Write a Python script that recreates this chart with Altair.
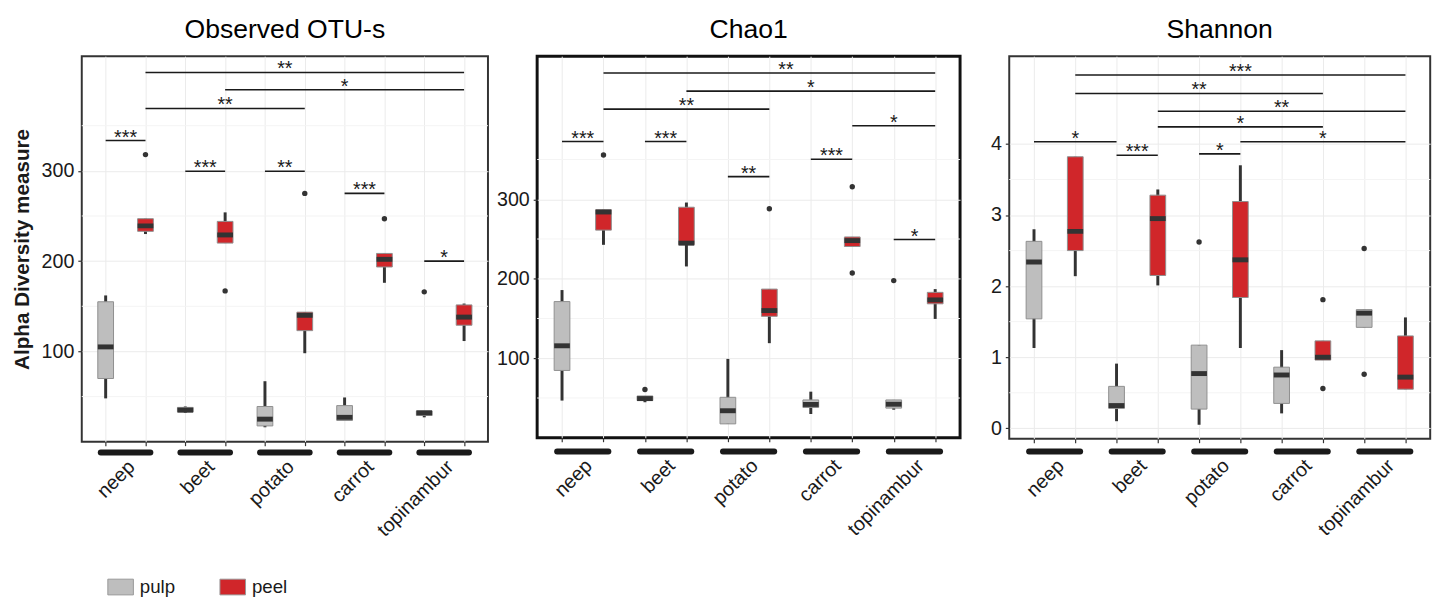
import altair as alt
import pandas as pd

FONT = "Liberation Sans"

vegetables = ["neep", "beet", "potato", "carrot", "topinambur"]
tissues = ["pulp", "peel"]
tissue_colors = ["#bebebe", "#d0262a"]

# group order: neep pulp, neep peel, beet pulp, beet peel, ... (positions 1..10)
# ---- Observed OTU-s
obs_lo = [48, 230, 32, 220, 16, 98, 23.5, 176, 27, 111.5]
obs_q1 = [70, 233, 33, 220, 17.5, 123, 23.5, 193.5, 29, 129]
obs_med = [105, 239, 35, 229, 25, 140, 27, 202, 32, 138]
obs_q3 = [155, 247, 38, 244, 39, 143.5, 40, 208.5, 34, 151.5]
obs_hi = [162, 247, 39, 254, 67, 143.5, 49, 208.5, 34, 153]
obs_out_grp = [2, 4, 6, 8, 9]
obs_out_val = [318, 167, 275, 247, 166]
obs_br_from = [1, 3, 5, 7, 9, 2, 4, 2]
obs_br_to = [2, 4, 6, 8, 10, 6, 10, 10]
obs_br_y = [333.5, 299.6, 299.6, 275, 200, 369, 389.8, 409]
obs_br_lab = ["***", "***", "**", "***", "*", "**", "*", "**"]
obs_br_lx = [1.5, 3.5, 5.5, 7.5, 9.5, 4, 7, 5.5]

# ---- Chao1
chao_lo = [46.8, 242.7, 44.7, 215.5, 17.5, 119, 29.9, 240.6, 35.3, 149.5]
chao_q1 = [84.7, 261.2, 46.8, 243, 17.5, 152.8, 38.1, 240.6, 37.3, 168.5]
chao_med = [115.7, 284, 49.3, 244.8, 34, 160, 41.9, 248, 42.2, 173.4]
chao_q3 = [171.3, 286.8, 52.6, 290, 50.9, 187, 47.6, 252.6, 47.6, 182.9]
chao_hi = [185.8, 286.8, 52.6, 295.9, 99.2, 187, 58, 252.6, 47.6, 187]
chao_out_grp = [2, 3, 6, 8, 8, 9]
chao_out_val = [355.7, 60.8, 288, 315.7, 207.2, 197.7]
chao_br_from = [1, 3, 5, 7, 9, 2, 4, 2, 8]
chao_br_to = [2, 4, 6, 8, 10, 6, 10, 10, 10]
chao_br_y = [372.6, 372.6, 328.5, 350.3, 249.3, 413.4, 436, 458.8, 392.4]
chao_br_lab = ["***", "***", "**", "***", "*", "**", "*", "**", "*"]
chao_br_lx = [1.5, 3.5, 5.5, 7.5, 9.5, 4, 7, 6.4, 9]

# ---- Shannon
sha_lo = [1.13, 2.14, 0.10, 2.01, 0.05, 1.13, 0.21, 0.96, 1.42, 0.55]
sha_q1 = [1.54, 2.50, 0.28, 2.15, 0.27, 1.84, 0.35, 0.96, 1.42, 0.55]
sha_med = [2.34, 2.77, 0.32, 2.95, 0.77, 2.37, 0.75, 1.00, 1.62, 0.72]
sha_q3 = [2.63, 3.82, 0.59, 3.28, 1.17, 3.19, 0.86, 1.23, 1.67, 1.30]
sha_hi = [2.80, 3.82, 0.91, 3.36, 1.17, 3.70, 1.10, 1.23, 1.67, 1.56]
sha_out_grp = [5, 8, 8, 9, 9]
sha_out_val = [2.62, 1.81, 0.56, 2.53, 0.76]
sha_br_from = [1, 3, 5, 6, 4, 4, 2, 2]
sha_br_to = [3, 4, 6, 10, 8, 10, 8, 10]
sha_br_y = [4.03, 3.84, 3.86, 4.03, 4.24, 4.46, 4.71, 4.97]
sha_br_lab = ["*", "***", "*", "*", "*", "**", "**", "***"]
sha_br_lx = [2, 3.5, 5.5, 8, 6, 7, 5, 6]

positions = list(range(1, 11))

label_expr = ("datum.value % 2 == 1 ? ["
              + ",".join("'" + v + "'" for v in vegetables)
              + "][(datum.value - 1) / 2] : ''")


def panel(title, W, H, dom, yticks, minor, lo, q1, med, q3, hi,
          out_g, out_v, br_from, br_to, br_y, br_lab, br_lx,
          frame_color, frame_w, label_off, label_pad, bar_dy, y_title=None):
    groups = pd.DataFrame({
        "pos": positions,
        "tissue": [tissues[i % 2] for i in range(10)],
        "veg": [vegetables[i // 2] for i in range(10)],
        "lo": lo, "q1": q1, "med": med, "q3": q3, "hi": hi,
    })
    outs = pd.DataFrame({"pos": out_g, "v": out_v})
    brs = pd.DataFrame({"a": br_from, "b": br_to, "y": br_y, "lab": br_lab, "lx": br_lx})
    pairs = pd.DataFrame({"a": positions[0::2], "b": positions[1::2], "veg": vegetables})
    mins = pd.DataFrame({"v": minor})

    xs = alt.Scale(domain=[0.4, 10.6], nice=False, zero=False, padding=0)
    xaxis = alt.Axis(values=positions, labelExpr=label_expr, labelAngle=-45,
                     labelAlign="right", labelBaseline="top", labelOffset=label_off,
                     labelPadding=label_pad, labelFontSize=20, labelFont=FONT,
                     labelColor="#1a1a1a", labelOverlap=False, labelFlush=False,
                     tickSize=4, tickColor="#333333", tickWidth=1.2, domain=False,
                     grid=True, gridColor="#ebebeb", gridWidth=1, title=None)
    ys = alt.Scale(domain=dom, nice=False, zero=False, padding=0)
    yargs = dict(values=yticks, format="d", grid=True, gridColor="#ebebeb", gridWidth=1,
                 domain=False, tickSize=4, tickColor="#333333", tickWidth=1.2,
                 labelFontSize=20, labelFont=FONT, labelColor="#1a1a1a", labelPadding=4)
    if y_title:
        yargs.update(title=y_title, titleFontSize=21, titleFont=FONT, titleFontWeight="bold",
                     titleColor="#1a1a1a", titlePadding=9)
    else:
        yargs.update(title=None)
    yaxis = alt.Axis(**yargs)

    def X(f):
        return alt.X(f + ":Q", scale=xs, axis=xaxis)

    def Y(f):
        return alt.Y(f + ":Q", scale=ys, axis=yaxis)

    minor_grid = alt.Chart(mins).mark_rule(color="#f4f4f4", strokeWidth=1).encode(y=Y("v"))
    whisk = alt.Chart(groups).mark_rule(color="#333333", strokeWidth=3).encode(
        x=X("pos"), y=Y("lo"), y2="hi")
    box = alt.Chart(groups).mark_bar(size=16, stroke="#8f8f8f", strokeWidth=1).encode(
        x=X("pos"), y=Y("q1"), y2="q3",
        fill=alt.Fill("tissue:N", scale=alt.Scale(domain=tissues, range=tissue_colors),
                      legend=alt.Legend(title=None, orient="none", legendX=29, legendY=529,
                                        direction="horizontal",
                                        symbolType="M-1.3,-0.8H1.3V0.8H-1.3Z",
                                        symbolSize=400, symbolStrokeColor="#999999",
                                        symbolStrokeWidth=1, symbolOpacity=1,
                                        labelFontSize=19, labelFont=FONT,
                                        labelColor="#1a1a1a", labelOffset=9,
                                        columnPadding=43, padding=0)))
    medians = alt.Chart(groups).mark_tick(orient="horizontal", size=16, thickness=5,
                                          color="#333333", opacity=1).encode(
        x=X("pos"), y=Y("med"))
    points = alt.Chart(outs).mark_circle(size=30, color="#333333", opacity=1).encode(
        x=X("pos"), y=Y("v"))
    brackets = alt.Chart(brs).mark_rule(color="#1a1a1a", strokeWidth=1.6).encode(
        x=X("a"), x2="b", y=Y("y"))
    stars = alt.Chart(brs).mark_text(fontSize=20, font=FONT, baseline="alphabetic",
                                     color="#1a1a1a", dy=3).encode(
        x=X("lx"), y=Y("y"), text="lab:N")
    under = alt.Chart(pairs).mark_rule(color="#1a1a1a", strokeWidth=6, strokeCap="round",
                                       xOffset=-5, x2Offset=5).encode(
        x=X("a"), x2="b", y=alt.value(H + bar_dy))

    return alt.layer(minor_grid, whisk, box, medians, points, brackets, stars, under).properties(
        width=W, height=H,
        title=alt.Title(title, fontSize=27, font=FONT, fontWeight="normal", color="black",
                        anchor="middle", offset=12),
        view=alt.ViewBackground(stroke=frame_color, strokeWidth=frame_w, fill="white"),
    )


p1 = panel("Observed OTU-s", 413, 392, [0, 427], [100, 200, 300], [50, 150, 250, 350],
           obs_lo, obs_q1, obs_med, obs_q3, obs_hi, obs_out_grp, obs_out_val,
           obs_br_from, obs_br_to, obs_br_y, obs_br_lab, obs_br_lx,
           "#333333", 2, 19, 11, 11, y_title="Alpha Diversity measure")
p2 = panel("Chao1", 430, 388, [0, 480], [100, 200, 300], [50, 150, 250, 350],
           chao_lo, chao_q1, chao_med, chao_q3, chao_hi, chao_out_grp, chao_out_val,
           chao_br_from, chao_br_to, chao_br_y, chao_br_lab, chao_br_lx,
           "#111111", 3, 20, 14, 14)
p3 = panel("Shannon", 428, 389, [-0.147, 5.235], [0, 1, 2, 3, 4], [0.5, 1.5, 2.5, 3.5],
           sha_lo, sha_q1, sha_med, sha_q3, sha_hi, sha_out_grp, sha_out_val,
           sha_br_from, sha_br_to, sha_br_y, sha_br_lab, sha_br_lx,
           "#333333", 2, 20, 13, 13)

chart = alt.hconcat(p1, p2, p3, spacing=50, bounds="flush").properties(
    padding={"left": 2, "top": 2, "right": 2, "bottom": 0}
).configure(font=FONT, background="white")

chart.save("out.html", embed_options={"renderer": "svg", "actions": False})
